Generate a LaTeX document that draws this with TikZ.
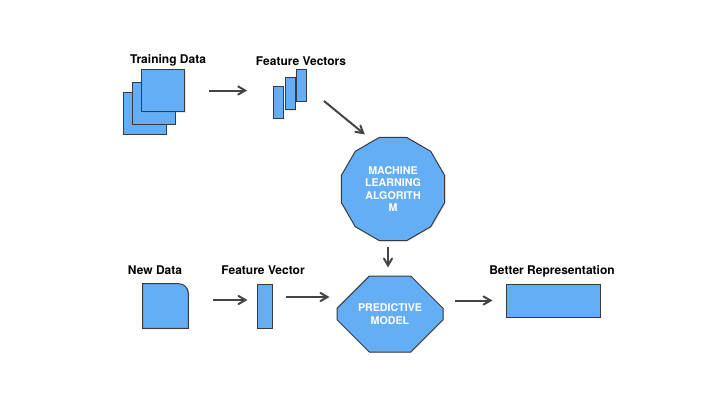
\documentclass[tikz,border=0pt]{standalone}
\usepackage{fontspec}
\setmainfont{TeX Gyre Heros}
\usepackage{xcolor}
\usepackage{tikz}
\usetikzlibrary{arrows,shapes,shapes.misc,shadows}

\definecolor{boxblue}{HTML}{63AEF5}
\definecolor{edgegray}{HTML}{3A3A3A}
\definecolor{arrowgray}{HTML}{444444}

\tikzset{
	box/.style={draw=edgegray, fill=boxblue, line width=0.75pt, inner sep=0pt,
		drop shadow={opacity=0.2, shadow xshift=0.8pt, shadow yshift=-0.8pt}},
	lbl/.style={font=\bfseries\fontsize{9}{11}\selectfont, text=black},
	inner/.style={font=\bfseries\fontsize{8}{9.4}\selectfont, text=white, align=center},
	flow/.style={->, >=angle 60, draw=arrowgray, line width=1.5pt},
}

\begin{document}
\begin{tikzpicture}[x=0.75pt,y=-0.75pt]
		\useasboundingbox (0,0) rectangle (720,405);
		%
		% training data
		\node[box, minimum width=32.25pt, minimum height=31.5pt] (td3) at (144.5,113) {};
		\node[box, minimum width=32.25pt, minimum height=31.5pt] (td2) at (153.5,103) {};
		\node[box, minimum width=32.25pt, minimum height=31.5pt] (td1) at (163,90.5) {};
		\node[lbl] (tdl) at (168,60) {Training Data};
		%
		% feature vectors
		\node[box, minimum width=7.5pt, minimum height=24pt] (fv1) at (278,102) {};
		\node[box, minimum width=7.5pt, minimum height=24pt] (fv2) at (290,93.5) {};
		\node[box, minimum width=7.5pt, minimum height=24pt] (fv3) at (301,85) {};
		\node[lbl] (fvl) at (301,61) {Feature Vectors};
		%
		% learning algorithm
		\node[box, regular polygon, regular polygon sides=12, minimum size=80pt, inner]
		(ml) at (393,189) {MACHINE\\LEARNING\\ALGORITH\\M};
		%
		% new data
		\node[minimum width=33.75pt, minimum height=33pt, inner sep=0pt] (nd) at (165.5,306) {};
		\draw[box] (nd.south west) -- (nd.north west) -- ([xshift=-7pt]nd.north east)
		arc[start angle=90, end angle=0, radius=7pt] -- (nd.south east) -- cycle;
		\node[lbl] (ndl) at (155,270) {New Data};
		%
		\node[box, minimum width=11.25pt, minimum height=33pt] (fvb) at (264.5,306) {};
		\node[lbl] (fvbl) at (263,270) {Feature Vector};
		%
		\node[box, chamfered rectangle, chamfered rectangle xsep=12pt, chamfered rectangle ysep=16.5pt,
		minimum width=79.5pt, minimum height=57pt, inner] (pm) at (390,314) {PREDICTIVE\\MODEL};
		%
		\node[box, minimum width=70.5pt, minimum height=24.75pt] (br) at (553,300.5) {};
		\node[lbl] (brl) at (552,271) {Better Representation};
		%
		\coordinate (fvout) at (324,101);
		%
		\draw[flow, shorten <=18pt, shorten >=19pt] (td1.east) -- (fv1.west |- td1.east);
		\draw[flow, shorten >=7.5pt] (fvout) -- (ml.113);
		\draw[flow, shorten <=4.5pt, shorten >=6pt] ([xshift=-3.75pt]ml.south) -- ([xshift=-3.75pt]ml.south |- pm.north);
		\draw[flow, shorten <=18.75pt, shorten >=6.75pt] ([yshift=4.5pt]nd.east) -- ([yshift=4.5pt]nd.east -| fvb.west);
		\draw[flow, shorten <=9.75pt, shorten >=5.25pt] ([yshift=6.75pt]fvb.east) -- ([yshift=6.75pt]fvb.east -| pm.west);
		\draw[flow, shorten <=8.25pt, shorten >=9.75pt] (pm.east |- br.west) -- (br.west);
		\end{tikzpicture}
\end{document}
